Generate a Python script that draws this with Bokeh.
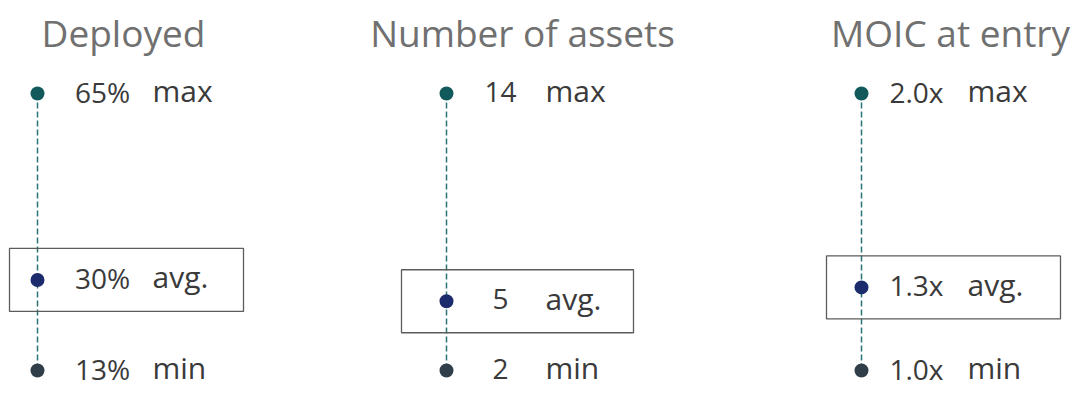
from bokeh.plotting import figure
from bokeh.models import Range1d
from bokeh.core.properties import value
from bokeh.embed import file_html
from bokeh.resources import INLINE

# ---- data ----
titles = ["Deployed", "Number of assets", "MOIC at entry"]
max_vals = [65, 14, 2.0]
avg_vals = [30, 5, 1.3]
min_vals = [13, 2, 1.0]
max_texts = ["65%", "14", "2.0x"]
avg_texts = ["30%", "5", "1.3x"]
min_texts = ["13%", "2", "1.0x"]
row_labels = ["max", "avg.", "min"]

# ---- layout / style constants ----
W, H = 1074, 394
dot_x = [37, 446, 861]
val_dx = [65, 54, 55]
lab_dx = [115, 99, 106]
box_l = [-28, -45, -35]
box_r = [206, 187, 199]
title_x = [123, 522, 950]
TITLE_BASE = 32
TOP_PX, BOT_PX = 93, 370  # pixel rows (from top) of max and min

FONT = value("Open Sans")
C_MAX, C_AVG, C_MIN = "#12595b", "#1b2b6b", "#2f3e49"
C_TEXT, C_TITLE = "#3a3a3a", "#707070"

p = figure(width=W, height=H, output_backend="svg", toolbar_location=None,
           x_range=Range1d(0, W), y_range=Range1d(H, 0),
           min_border=0, outline_line_color=None)
p.axis.visible = False
p.grid.visible = False

span = BOT_PX - TOP_PX
for i in range(3):
    lo, hi = min_vals[i], max_vals[i]
    unit = (hi - lo) / span
    name = "r%d" % i
    p.extra_y_ranges[name] = Range1d(lo - (H - BOT_PX) * unit, hi + TOP_PX * unit)
    x0 = dot_x[i]
    # dashed spine
    p.segment(x0=[x0], y0=[hi], x1=[x0], y1=[lo], y_range_name=name,
              line_color="#2a7475", line_width=1.5, line_dash="6 3")
    # avg box
    p.rect(x=[x0 + (box_l[i] + box_r[i]) / 2], y=[avg_vals[i]],
           width=box_r[i] - box_l[i], height=63, height_units="screen",
           y_range_name=name, fill_color=None, line_color="#5c5c5c", line_width=1.3)
    # dots
    p.scatter(x=[x0] * 3, y=[hi, avg_vals[i], lo], y_range_name=name,
              size=14, color=[C_MAX, C_AVG, C_MIN], line_color=None)
    # value texts
    p.text(x=[x0 + val_dx[i]] * 3, y=[hi, avg_vals[i], lo],
           text=[max_texts[i], avg_texts[i], min_texts[i]], y_range_name=name,
           text_font=FONT, text_font_size="28px", text_color=C_TEXT,
           text_align="center", text_baseline="middle", y_offset=-2)
    p.text(x=[x0 + lab_dx[i]] * 3, y=[hi, avg_vals[i], lo],
           text=row_labels, y_range_name=name,
           text_font=FONT, text_font_size="30px", text_color=C_TEXT,
           text_align="left", text_baseline="middle", y_offset=-3)
    # title
    p.text(x=[title_x[i]], y=[TITLE_BASE], text=[titles[i]],
           text_font=FONT, text_font_size="37px", text_color=C_TITLE,
           text_align="center", text_baseline="alphabetic")

open("out.html", "w").write(file_html(p, INLINE))
